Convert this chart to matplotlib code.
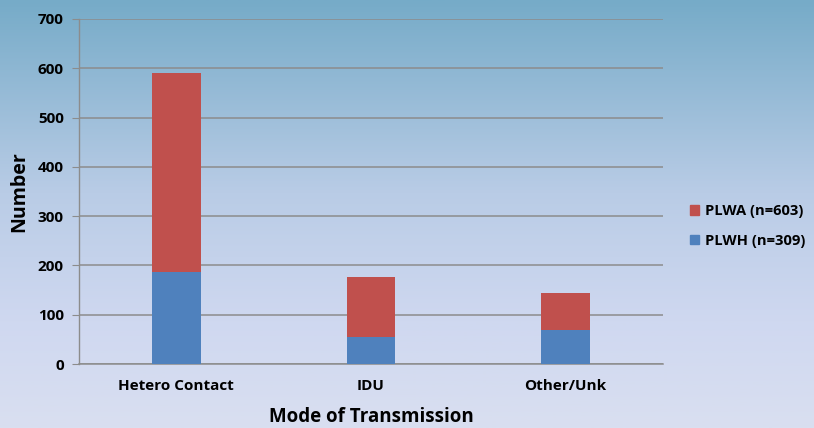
import matplotlib
matplotlib.use("Agg")
import matplotlib.pyplot as plt
import numpy as np
from matplotlib.colors import LinearSegmentedColormap
from matplotlib.patches import Patch

categories = ["Hetero Contact", "IDU", "Other/Unk"]
plwh = [187, 54, 68]
plwa = [404, 122, 77]
series_labels = ["PLWA (n=603)", "PLWH (n=309)"]
yticks = [0, 100, 200, 300, 400, 500, 600, 700]

W, H = 814, 428
fig = plt.figure(figsize=(W / 100, H / 100), dpi=100)

# gradient background
bg = fig.add_axes([0, 0, 1, 1], zorder=-10)
cmap = LinearSegmentedColormap.from_list(
    "bg", [(0.0, "#76abc8"), (0.45, "#b9cce6"), (0.75, "#cfd8f0"), (1.0, "#d9dff0")])
grad = np.linspace(0, 1, 256).reshape(-1, 1)
bg.imshow(grad, aspect="auto", cmap=cmap, extent=[0, 1, 0, 1], origin="upper")
bg.axis("off")

font = "Open Sans"
ax = fig.add_axes([79 / W, (H - 364) / H, (663 - 79) / W, (364 - 19) / H])
ax.patch.set_alpha(0)
x = np.arange(len(categories))
ax.bar(x, plwh, width=0.25, color="#4f81bd", zorder=3, label=series_labels[1])
ax.bar(x, plwa, width=0.25, bottom=plwh, color="#c0504d", zorder=3, label=series_labels[0])
ax.set_xlim(-0.5, 2.5)
ax.set_ylim(0, 700)
ax.set_yticks(yticks)
ax.yaxis.grid(True, color="#8c8c8c", linewidth=1.1, zorder=0)
ax.set_axisbelow(True)
for s in ["top", "right"]:
    ax.spines[s].set_visible(False)
ax.spines["left"].set_color("#8c8c8c")
ax.spines["bottom"].set_color("#8c8c8c")
ax.spines["left"].set_linewidth(1.0)
ax.spines["bottom"].set_linewidth(1.1)
ax.tick_params(axis="y", length=5, color="#8c8c8c", pad=6)
ax.tick_params(axis="x", length=0, pad=11)
ax.set_xticks(x)
ax.set_xticklabels(categories)
for lbl in ax.get_xticklabels() + ax.get_yticklabels():
    lbl.set_fontfamily(font)
    lbl.set_fontweight("bold")
    lbl.set_fontsize(11)
ax.set_ylabel("Number", fontfamily=font, fontweight="bold", fontsize=14, labelpad=6)
ax.set_xlabel("Mode of Transmission", fontfamily=font, fontweight="bold", fontsize=13.5, labelpad=10)

handles = [Patch(color="#c0504d"), Patch(color="#4f81bd")]
leg = fig.legend(handles, series_labels, loc="center left",
                 bbox_to_anchor=(677 / W, 1 - 226 / H), frameon=False,
                 prop={"family": font, "weight": "bold", "size": 10.6},
                 handlelength=0.6, handleheight=0.6, handletextpad=0.4, labelspacing=1.05)

fig.savefig("out.png", dpi=100)
